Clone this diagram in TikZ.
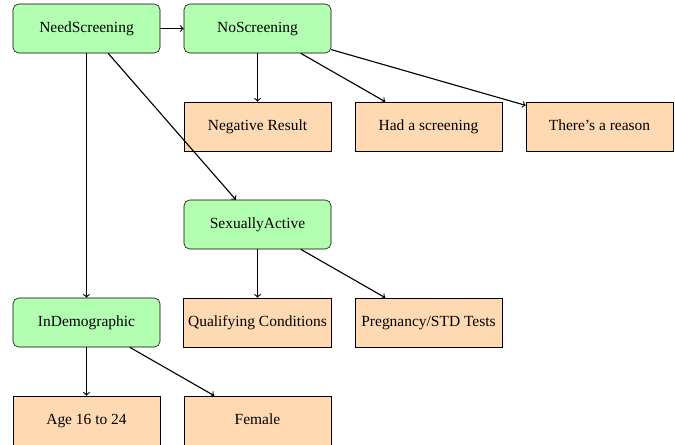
\documentclass[tikz,border=0pt]{standalone}
\usepackage{fontspec}
\setmainfont{Liberation Serif}
\usepackage{tikz}

\tikzset{
  box/.style={draw, minimum width=3.675cm, minimum height=1.225cm, text height=1.6ex, text depth=0.3ex, font=\fontsize{11}{13}\selectfont},
  cond/.style={box, rounded corners, fill=green!30},
  result/.style={box, fill=orange!30},
  link/.style={->, line width=0.8pt}
}

\begin{document}
\begin{tikzpicture}
		\useasboundingbox (0,0) rectangle (16.875,-11.1) ;
		\node[cond] (need) at (2.1625,-0.7125) {NeedScreening} ;
		\node[cond] (noscr) at (6.4375,-0.7125) {NoScreening} ;
		\node[result] (neg) at (6.4375,-3.1625) {Negative Result} ;
		\node[result] (had) at (10.7125,-3.1625) {Had a screening} ;
		\node[result] (reason) at (14.9875,-3.1625) {There’s a reason} ;
		\node[cond] (active) at (6.4375,-5.6125) {SexuallyActive} ;
		\node[cond] (demo) at (2.1625,-8.0625) {InDemographic} ;
		\node[result] (qual) at (6.4375,-8.0625) {Qualifying Conditions} ;
		\node[result] (preg) at (10.7125,-8.0625) {Pregnancy/STD Tests} ;
		\node[result] (age) at (2.1625,-10.5125) {Age 16 to 24} ;
		\node[result] (female) at (6.4375,-10.5125) {Female} ;
		\draw[link] (need) -- (noscr) ;
		\draw[link] (need) -- (demo) ;
		\draw[link] (need) -- (active) ;
		\foreach \to in {neg, had, reason} \draw[link] (noscr) -- (\to) ;
		\foreach \to in {qual, preg} \draw[link] (active) -- (\to) ;
		\foreach \to in {age, female} \draw[link] (demo) -- (\to) ;
	\end{tikzpicture}
\end{document}
